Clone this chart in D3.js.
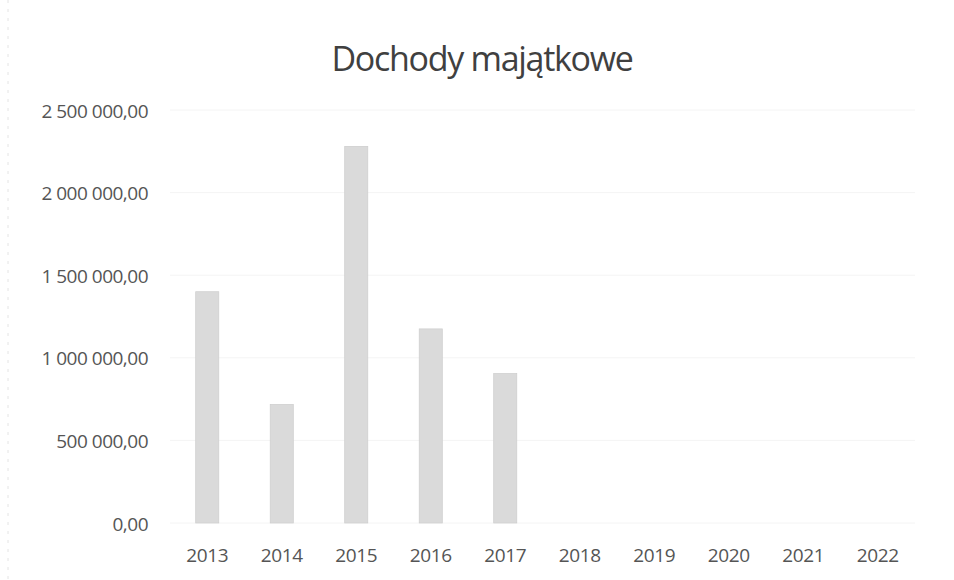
<!DOCTYPE html>
<html><head><meta charset="utf-8">
<script src="https://cdn.jsdelivr.net/npm/d3@7"></script>
<style>body{margin:0;background:#fff}svg{display:block}</style>
</head><body>
<script>
const years = ["2013","2014","2015","2016","2017","2018","2019","2020","2021","2022"];
const values = [1400000, 718000, 2280000, 1175000, 905000, 0, 0, 0, 0, 0];
const yTicks = [0, 500000, 1000000, 1500000, 2000000, 2500000];
const title = "Dochody majątkowe";

const W = 954, H = 580;
const svg = d3.select("body").append("svg").attr("width", W).attr("height", H);
svg.append("rect").attr("width", W).attr("height", H).attr("fill", "#fff");

const x = d3.scaleBand().domain(years).range([170, 915]).paddingInner(0.69).paddingOuter(0.345);
const y = d3.scaleLinear().domain([0, 2500000]).range([523, 110]);

const fmt = v => d3.format(",.2f")(v).replace(/,/g, " ").replace(".", ",");

// faint gridlines
svg.append("g").selectAll("line").data(yTicks).join("line")
  .attr("x1", 170).attr("x2", 915)
  .attr("y1", d => y(d)).attr("y2", d => y(d))
  .attr("stroke", "#f4f4f4").attr("stroke-width", 1);

// left border (scan edge)
svg.append("line").attr("x1", 8).attr("x2", 8).attr("y1", 0).attr("y2", H)
  .attr("stroke", "#e4e4e4").attr("stroke-dasharray", "3,6");

// bars
svg.append("g").selectAll("rect").data(values.map((v, i) => ({ y: years[i], v })).filter(d => d.v > 0))
  .join("rect")
  .attr("x", d => x(d.y)).attr("width", x.bandwidth())
  .attr("y", d => y(d.v)).attr("height", d => y(0) - y(d.v))
  .attr("fill", "#dadada").attr("stroke", "#cdcdcd").attr("stroke-width", 0.7);

// y axis
const yAxis = d3.axisLeft(y).tickValues(yTicks).tickFormat(fmt).tickSize(0).tickPadding(0);
const gy = svg.append("g").attr("transform", "translate(148,1)").call(yAxis);
gy.select(".domain").remove();
gy.selectAll("text").attr("font-family", "'Open Sans', sans-serif").attr("font-size", 19)
  .attr("fill", "#555").attr("letter-spacing", "-0.5px");

// x axis
const xAxis = d3.axisBottom(x).tickSize(0).tickPadding(0);
const gx = svg.append("g").attr("transform", "translate(0,548)").call(xAxis);
gx.select(".domain").remove();
gx.selectAll("text").attr("font-family", "'Open Sans', sans-serif").attr("font-size", 19)
  .attr("fill", "#555").attr("letter-spacing", "-0.3px").attr("dy", "0.71em");

// title
svg.append("text").attr("x", 482).attr("y", 71).attr("text-anchor", "middle")
  .attr("font-family", "'Open Sans', sans-serif").attr("font-size", 34)
  .attr("fill", "#404040").attr("letter-spacing", "-1.3px").text(title);
</script>
</body></html>
